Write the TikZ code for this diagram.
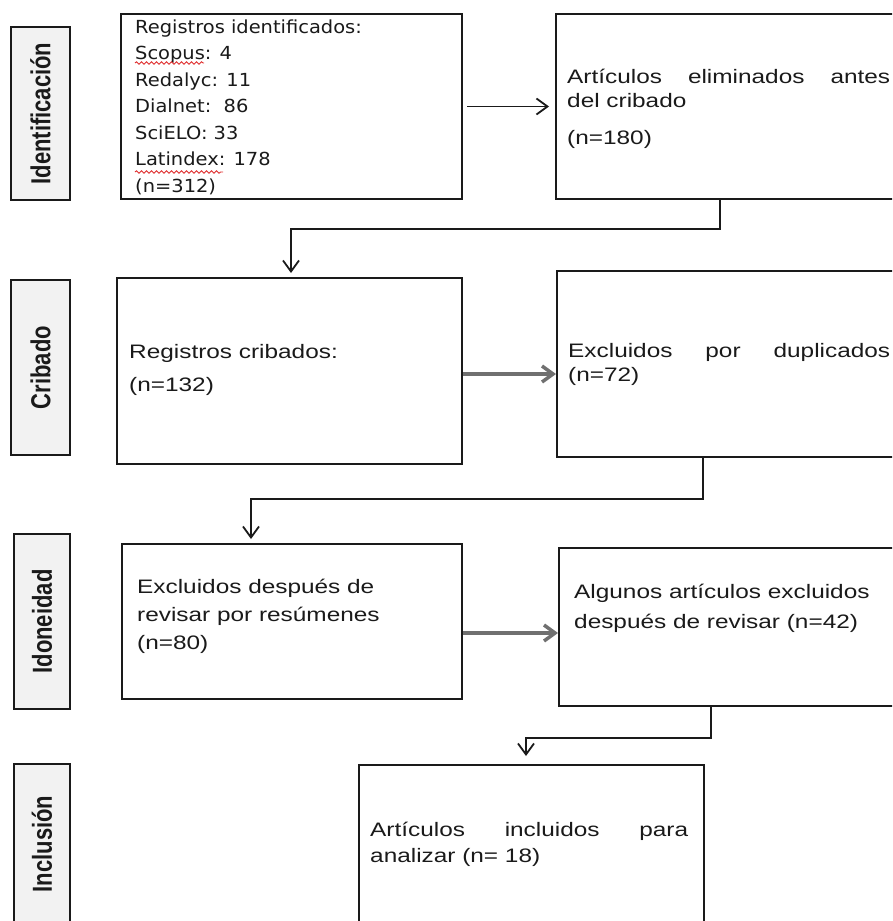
\documentclass[tikz,border=0pt]{standalone}
\usepackage{fontspec}
\setmainfont{Liberation Sans}
\newfontfamily\arx{Liberation Sans}[FakeStretch=1.25]
\newfontfamily\dvx{DejaVu Sans}[FakeStretch=1.08]
\usetikzlibrary{arrows.meta,decorations.pathmorphing,calc}
\definecolor{ink}{HTML}{1A1A1A}
\definecolor{labfill}{HTML}{F2F2F2}
\definecolor{arrgray}{HTML}{707070}
\definecolor{squig}{HTML}{E03030}
\begin{document}
\begin{tikzpicture}[x=1pt,y=-1pt,
 box/.style={draw=ink, line width=2pt, inner sep=0pt, anchor=north west, fill=white},
 phase/.style={draw=ink, line width=2pt, fill=labfill, inner sep=0pt, anchor=north west},
 phasetxt/.style={rotate=90, inner sep=0pt, text=ink, font=\fontsize{22}{26}\selectfont\bfseries},
 txt/.style={inner sep=0pt, anchor=base west, text=ink, font=\arx\fontsize{19.5}{24}\selectfont},
 txtdv/.style={inner sep=0pt, anchor=base west, text=ink, font=\dvx\fontsize{18}{26.5}\selectfont},
 conn/.style={draw=ink, line width=1.8pt, -{Straight Barb[length=11pt,width=16pt]}},
 conngray/.style={draw=arrgray, line width=3.5pt, -{Straight Barb[length=11pt,width=16pt]}},
 wavy/.style={draw=squig, line width=0.9pt, decorate, decoration={snake, amplitude=1.2pt, segment length=5pt}}
]
\useasboundingbox (0,0) rectangle (892,921);
\fill[white] (0,0) rectangle (892,921);
\clip (0,0) rectangle (892,921);

% phase labels
\node[phase, minimum width=59pt, minimum height=173pt] (p1) at (10,26) {};
\node[phase, minimum width=59pt, minimum height=175pt] (p2) at (10,279) {};
\node[phase, minimum width=56pt, minimum height=175pt] (p3) at (13,533) {};
\node[phase, minimum width=56pt, minimum height=160pt] (p4) at (13,763) {};
\node[phasetxt] (p1t) at (p1.center) {\scalebox{1}[1.25]{Identificación}};
\node[phasetxt] (p2t) at (p2.center) {\scalebox{1}[1.25]{Cribado}};
\node[phasetxt] (p3t) at (p3.center) {\scalebox{1}[1.25]{Idoneidad}};
\node[phasetxt] (p4t) at (p4.center) {\scalebox{1}[1.25]{Inclusión}};

% boxes
\node[box, minimum width=341pt, minimum height=185pt] (b1) at (120,13) {};
\node[box, minimum width=350pt, minimum height=185pt] (b2) at (555,13) {};
\node[box, minimum width=345pt, minimum height=186pt] (b3) at (116,277) {};
\node[box, minimum width=350pt, minimum height=186pt] (b4) at (556,270) {};
\node[box, minimum width=340pt, minimum height=155pt] (b5) at (121,543) {};
\node[box, minimum width=350pt, minimum height=158pt] (b6) at (558,547) {};
\node[box, minimum width=345pt, minimum height=175pt] (b7) at (358,764) {};

% texts
\node[txtdv] (t1) at (135,33) {\parbox[t]{320pt}{Registros identificados:\\Scopus: 4\\Redalyc: 11\\Dialnet:\ \ 86\\SciELO: 33\\Latindex: 178\\(n=312)}};
\draw[wavy] (135,63) -- (204,63);
\draw[wavy] (135,172) -- (223,172);

\node[txt] (t2) at (567,83) {\parbox[t]{330pt}{\makebox[323pt][s]{Artículos eliminados antes}\\del cribado\\[13pt](n=180)}};
\node[txt] (t3) at (129,358) {\parbox[t]{320pt}{Registros cribados:\\[9pt](n=132)}};
\node[txt] (t4) at (568,357) {\parbox[t]{330pt}{\makebox[322pt][s]{Excluidos por duplicados}\\(n=72)}};
\node[txt] (t5) at (137,593) {\parbox[t]{320pt}{\fontsize{19.5}{28}\selectfont Excluidos después de\\revisar por resúmenes\\(n=80)}};
\node[txt] (t6) at (574,598) {\parbox[t]{320pt}{Algunos artículos excluidos\\[6pt]después de revisar (n=42)}};
\node[txt] (t7) at (370,836) {\parbox[t]{330pt}{\makebox[318pt][s]{Artículos incluidos para}\\[2pt]analizar (n= 18)}};

% connectors
\draw[conn, shorten <=4pt, shorten >=6pt] (b1.east) -- (b2.west);
\draw[conngray] ([yshift=-3pt]b3.east) -- ([yshift=-3pt]b3.east -| b4.west);
\draw[conngray] ([yshift=-11.5pt]b5.east) -- ([yshift=-11.5pt]b5.east -| b6.west);
\draw[conn, shorten >=4pt] ([xshift=165pt]b2.south west) -- ++(0,29) -| ([xshift=175pt]b3.north west);
\draw[conn, shorten >=4pt] ([xshift=147pt]b4.south west) -- ++(0,41) -| ([xshift=130pt]b5.north west);
\draw[conn, shorten >=8pt] ([xshift=153pt]b6.south west) -- ++(0,31) -| ([xshift=168pt]b7.north west);
\end{tikzpicture}
\end{document}
